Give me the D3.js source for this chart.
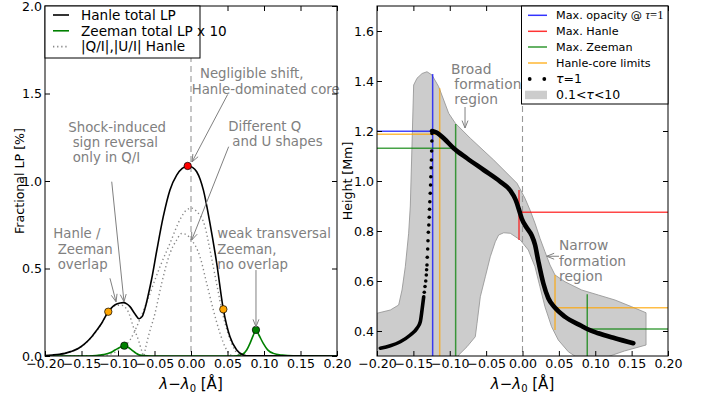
<!DOCTYPE html>
<html><head><meta charset="utf-8">
<script src="https://cdn.jsdelivr.net/npm/d3@7"></script>
<style>body{margin:0;background:#fff}svg{display:block}text{font-family:"DejaVu Sans",sans-serif}</style>
</head><body><svg id="c" width="711" height="396"></svg>
<script>
// ---------- DATA ----------
const xTicks = [-0.20,-0.15,-0.10,-0.05,0.00,0.05,0.10,0.15,0.20];
const leftYTicks = [0.0,0.5,1.0,1.5,2.0];
const rightYTicks = [0.4,0.6,0.8,1.0,1.2,1.4,1.6];

const hanleTotal = [[-0.20,0.003],[-0.19,0.006],[-0.18,0.01],[-0.1726,0.015],[-0.165,0.025],[-0.154,0.044],[-0.145,0.072],[-0.136,0.11],[-0.129,0.148],[-0.1224,0.187],[-0.1133,0.253],[-0.1065,0.285],[-0.1018,0.297],[-0.097,0.303],[-0.0927,0.305],[-0.088,0.298],[-0.0836,0.282],[-0.0767,0.24],[-0.0712,0.213],[-0.067,0.225],[-0.063,0.272],[-0.0585,0.35],[-0.0539,0.44],[-0.047,0.6],[-0.038,0.796],[-0.0288,0.949],[-0.0196,1.034],[-0.012,1.072],[-0.0045,1.086],[0.002,1.078],[0.0078,1.053],[0.0125,1.01],[0.0169,0.949],[0.026,0.758],[0.0352,0.53],[0.0443,0.267],[0.0534,0.11],[0.0626,0.034],[0.0717,0.006],[0.08,0.001],[0.20,0]];
const zeemanTotalX10 = [[-0.20,0],[-0.14,0],[-0.13,0.002],[-0.12,0.008],[-0.11,0.02],[-0.104,0.034],[-0.097,0.05],[-0.0913,0.059],[-0.086,0.05],[-0.081,0.034],[-0.075,0.015],[-0.07,0.005],[-0.06,0.001],[-0.05,0],[0.06,0],[0.07,0.008],[0.0763,0.034],[0.0808,0.072],[0.085,0.115],[0.089,0.149],[0.093,0.12],[0.099,0.072],[0.105,0.035],[0.1127,0.015],[0.125,0.005],[0.14,0.001],[0.20,0]];
const qOverI = [[-0.20,0.002],[-0.18,0.009],[-0.165,0.024],[-0.154,0.043],[-0.136,0.108],[-0.1224,0.185],[-0.1133,0.25],[-0.102,0.29],[-0.095,0.29],[-0.09,0.278],[-0.086,0.253],[-0.079,0.167],[-0.072,0.091],[-0.0675,0.03],[-0.065,0.0],[-0.062,0.05],[-0.0585,0.11],[-0.0493,0.244],[-0.0402,0.415],[-0.0288,0.587],[-0.02,0.66],[-0.0128,0.70],[-0.005,0.69],[0.0,0.665],[0.006,0.63],[0.0123,0.567],[0.0215,0.415],[0.0306,0.263],[0.0397,0.13],[0.0489,0.034],[0.055,0.005],[0.065,0],[0.20,0]];
const uOverI = [[-0.20,0],[-0.12,0.003],[-0.105,0.02],[-0.095,0.045],[-0.0836,0.091],[-0.073,0.18],[-0.063,0.282],[-0.0425,0.51],[-0.0288,0.644],[-0.015,0.78],[-0.006,0.835],[0.001,0.845],[0.008,0.825],[0.0192,0.739],[0.026,0.606],[0.035,0.415],[0.0443,0.225],[0.0557,0.072],[0.0648,0.01],[0.075,0],[0.20,0]];
const coreLimitDots = [[-0.1133,0.253],[0.0443,0.267]];
const hanleMaxDot = [[-0.0045,1.086]];
const zeemanMaxDots = [[-0.0913,0.059],[0.089,0.149]];

// right panel
const bandUpper = [[-0.2,0.471],[-0.1817,0.484],[-0.1702,0.504],[-0.1656,0.564],[-0.1611,0.657],[-0.1565,0.791],[-0.1542,0.90],[-0.1496,1.384],[-0.145,1.411],[-0.1380,1.430],[-0.1313,1.437],[-0.1244,1.424],[-0.1152,1.377],[-0.1083,1.324],[-0.1015,1.271],[-0.0923,1.231],[-0.0717,1.171],[-0.0396,1.084],[-0.0076,0.991],[0.0034,0.931],[0.0103,0.884],[0.0172,0.831],[0.024,0.771],[0.0309,0.717],[0.0378,0.664],[0.0447,0.624],[0.0584,0.597],[0.0814,0.564],[0.1042,0.544],[0.1271,0.524],[0.1501,0.497],[0.1698,0.473]];
const bandLower = [[-0.2,0.2],[-0.095,0.2],[-0.0877,0.304],[-0.0763,0.337],[-0.0649,0.377],[-0.0625,0.431],[-0.058,0.537],[-0.0511,0.617],[-0.0443,0.697],[-0.0374,0.757],[-0.0328,0.784],[-0.0258,0.793],[-0.0168,0.791],[-0.003,0.764],[0.008,0.724],[0.0172,0.657],[0.024,0.577],[0.0309,0.497],[0.04,0.417],[0.0492,0.364],[0.063,0.317],[0.0745,0.295],[0.1,0.28],[0.14,0.32],[0.1698,0.344]];
const tauLow = [[-0.1955,0.331],[-0.1817,0.341],[-0.168,0.357],[-0.1542,0.384],[-0.145,0.411],[-0.1405,0.437],[-0.1381,0.484],[-0.1358,0.537]];
const tauSparse = [[-0.1350,0.555],[-0.1340,0.578],[-0.1330,0.600],[-0.1322,0.624],[-0.1318,0.645],[-0.1313,0.664],[-0.1309,0.695],[-0.1303,0.728],[-0.1299,0.761],[-0.1294,0.795],[-0.1288,0.824],[-0.1282,0.855],[-0.1278,0.887],[-0.1274,0.917],[-0.1268,0.951],[-0.1264,0.984],[-0.126,1.017],[-0.1256,1.053],[-0.1252,1.084],[-0.1249,1.12],[-0.1246,1.16],[-0.1244,1.19]];
const tauHigh = [[-0.1244,1.20],[-0.1175,1.193],[-0.1083,1.171],[-0.0946,1.131],[-0.0763,1.091],[-0.0533,1.044],[-0.0305,0.997],[-0.0168,0.962],[-0.0095,0.925],[-0.0048,0.885],[-0.0011,0.85],[0.0058,0.813],[0.0127,0.782],[0.0172,0.745],[0.0217,0.68],[0.0286,0.591],[0.0355,0.531],[0.0447,0.493],[0.0584,0.457],[0.0814,0.42],[0.089,0.408],[0.1042,0.391],[0.1271,0.371],[0.1523,0.351]];
// marker lines: [x1,y1,x2,y2,colour]
const markerLines = [
 [-0.1235,0.3,-0.1235,1.428,"blue"],[-0.2,1.199,-0.1235,1.199,"blue"],
 [-0.1138,0.3,-0.1138,1.371,"orange"],[-0.2,1.187,-0.1138,1.187,"orange"],
 [0.0447,0.404,0.0447,0.624,"orange"],[0.0447,0.493,0.2,0.493,"orange"],
 [-0.0919,0.3,-0.0919,1.228,"green"],[-0.2,1.131,-0.0919,1.131,"green"],
 [0.089,0.3,0.089,0.547,"green"],[0.089,0.408,0.2,0.408,"green"],
 [-0.0048,0.764,-0.0048,0.964,"red"],[-0.0048,0.875,0.2,0.875,"red"]
];
// annotations (data coordinates)
const leftNotes = [
 ["Negligible shift,",0.0123,1.589],["Hanle-dominated core",0.001,1.497],
 ["Shock-induced",-0.1681,1.28],["sign reversal",-0.1621,1.194],["only in Q/I",-0.1621,1.109],
 ["Different Q",0.0511,1.286],["and U shapes",0.0566,1.2],
 ["Hanle /",-0.1886,0.674],["Zeeman",-0.1826,0.583],["overlap",-0.1826,0.497],
 ["weak transversal",0.036,0.674],["Zeeman,",0.036,0.583],["no overlap",0.036,0.497]
];
const leftArrows = [
 [0.0503,1.495,0.0014,1.109],[-0.1086,0.996,-0.0918,0.310],[0.0516,1.196,0.001,0.663],
 [-0.111,0.444,-0.1027,0.310],[0.089,0.491,0.089,0.167]
];
const rightNotes = [
 ["Broad",-0.0983,1.428],["formation",-0.0937,1.368],["region",-0.0937,1.308],
 ["Narrow",0.0502,0.724],["formation",0.0502,0.662],["region",0.0502,0.6]
];
const rightArrows = [[-0.079,1.296,-0.079,1.212],[0.0502,0.699,0.0333,0.699]];

// ---------- DRAW ----------
const svg = d3.select("#c");
const GRAY = "#808080";
const fmt2 = d3.format(".2f"), fmt1 = d3.format(".1f");

function makeAxes(id, x0, x1, y0, y1, yDomain, yTickVals) {
  const x = d3.scaleLinear().domain([-0.2,0.2]).range([x0,x1]);
  const y = d3.scaleLinear().domain(yDomain).range([y1,y0]);
  svg.append("clipPath").attr("id",id).append("rect").attr("x",x0).attr("y",y0).attr("width",x1-x0).attr("height",y1-y0);
  const g = svg.append("g");
  const plot = g.append("g").attr("clip-path",`url(#${id})`);
  return {x,y,g,plot,x0,x1,y0,y1,yTickVals};
}
function finishAxes(A, yFmt) {
  const {x,y,g,x0,x1,y0,y1} = A;
  const ax = g.append("g");
  ax.append("g").attr("transform",`translate(0,${y1})`).call(d3.axisBottom(x).tickValues(xTicks).tickFormat(fmt2).tickSizeInner(-5).tickSizeOuter(0).tickPadding(3));
  ax.append("g").attr("transform",`translate(0,${y0})`).call(d3.axisTop(x).tickValues(xTicks).tickFormat("").tickSizeInner(-5).tickSizeOuter(0));
  ax.append("g").attr("transform",`translate(${x0},0)`).call(d3.axisLeft(y).tickValues(A.yTickVals).tickFormat(yFmt).tickSizeInner(-5).tickSizeOuter(0).tickPadding(3));
  ax.append("g").attr("transform",`translate(${x1},0)`).call(d3.axisRight(y).tickValues(A.yTickVals).tickFormat("").tickSizeInner(-5).tickSizeOuter(0));
  ax.selectAll(".domain").remove();
  ax.selectAll("text").attr("font-size",12.6).attr("font-family","DejaVu Sans").attr("fill","#000");
  ax.selectAll("line").attr("stroke","#000");
  g.append("rect").attr("x",x0).attr("y",y0).attr("width",x1-x0).attr("height",y1-y0).attr("fill","none").attr("stroke","#000").attr("stroke-width",1);
  const xl = g.append("text").attr("x",(x0+x1)/2).attr("y",389).attr("text-anchor","middle").attr("font-family","Liberation Serif, serif").attr("font-size",15);
  xl.append("tspan").attr("font-style","italic").text("λ");
  xl.append("tspan").text("−");
  xl.append("tspan").attr("font-style","italic").text("λ");
  xl.append("tspan").attr("font-size",10).attr("dy",3).text("0");
  xl.append("tspan").attr("dy",-3).text(" [Å]");
}
function arrow(g, A, a) {
  const X1=A.x(a[0]),Y1=A.y(a[1]),X2=A.x(a[2]),Y2=A.y(a[3]);
  const ang = Math.atan2(Y2-Y1,X2-X1), L=8, h=0.38;
  g.append("path").attr("d",`M${X1},${Y1}L${X2},${Y2}M${X2-L*Math.cos(ang-h)},${Y2-L*Math.sin(ang-h)}L${X2},${Y2}L${X2-L*Math.cos(ang+h)},${Y2-L*Math.sin(ang+h)}`)
    .attr("fill","none").attr("stroke",GRAY).attr("stroke-width",1);
}
function notes(g, A, list, fs) {
  list.forEach(n => g.append("text").attr("x",A.x(n[1])).attr("y",A.y(n[2])).attr("font-size",fs).attr("fill",GRAY).text(n[0]));
}

// ===== LEFT =====
const L = makeAxes("clipL",45,337,6,356,[0,2],leftYTicks);
const lineL = d3.line().x(d=>L.x(d[0])).y(d=>L.y(d[1])).curve(d3.curveMonotoneX);
L.plot.append("line").attr("x1",L.x(0)).attr("x2",L.x(0)).attr("y1",6).attr("y2",356).attr("stroke","#999").attr("stroke-width",1.1).attr("stroke-dasharray","6,4");
[qOverI,uOverI].forEach(s => L.plot.append("path").attr("d",lineL(s)).attr("fill","none").attr("stroke","#888").attr("stroke-width",1.4).attr("stroke-dasharray","1.3,2.8"));
L.plot.append("path").attr("d",lineL(zeemanTotalX10)).attr("fill","none").attr("stroke","#008000").attr("stroke-width",1.6);
L.plot.append("path").attr("d",lineL(hanleTotal)).attr("fill","none").attr("stroke","#000").attr("stroke-width",1.6);
const dot=(arr,col)=>arr.forEach(d=>L.g.append("circle").attr("cx",L.x(d[0])).attr("cy",L.y(d[1])).attr("r",3.7).attr("fill",col).attr("stroke","#000").attr("stroke-width",0.7));
dot(coreLimitDots,"orange"); dot(hanleMaxDot,"red"); dot(zeemanMaxDots,"#008000");
notes(L.g,L,leftNotes,13.3);
leftArrows.forEach(a=>arrow(L.g,L,a));
finishAxes(L,fmt1);
svg.append("text").attr("transform","translate(24,181) rotate(-90)").attr("text-anchor","middle").attr("font-size",12.6).text("Fractional LP [%]");
// left legend
const lg = svg.append("g");
lg.append("rect").attr("x",45).attr("y",6).attr("width",155).attr("height",52).attr("fill","#fff").attr("stroke","#000").attr("stroke-width",1);
const legL=[["Hanle total LP","#000",null],["Zeeman total LP x 10","#008000",null],["|Q/I|,|U/I| Hanle","#888","1.3,2.8"]];
legL.forEach((e,i)=>{const cy=15+i*15.8;
  lg.append("line").attr("x1",53).attr("x2",69).attr("y1",cy).attr("y2",cy).attr("stroke",e[1]).attr("stroke-width",1.6).attr("stroke-dasharray",e[2]);
  lg.append("text").attr("x",81).attr("y",cy+4.8).attr("font-size",13.6).text(e[0]);});

// ===== RIGHT =====
const R = makeAxes("clipR",377,668,6,356,[0.3,1.7],rightYTicks);
const lineRs = d3.line().x(d=>R.x(d[0])).y(d=>R.y(d[1])).curve(d3.curveMonotoneX);
const bandPts = bandUpper.concat(bandLower.slice().reverse());
R.plot.append("path").attr("d",d3.line().x(d=>R.x(d[0])).y(d=>R.y(d[1])).curve(d3.curveLinearClosed)(bandPts)).attr("fill","#cccccc").attr("stroke","#999").attr("stroke-width",0.9);
R.plot.append("line").attr("x1",R.x(0)).attr("x2",R.x(0)).attr("y1",6).attr("y2",356).attr("stroke","#999").attr("stroke-width",1.1).attr("stroke-dasharray","6,4");
markerLines.forEach(m=>R.plot.append("line").attr("x1",R.x(m[0])).attr("y1",R.y(m[1])).attr("x2",R.x(m[2])).attr("y2",R.y(m[3])).attr("stroke",m[4]).attr("stroke-opacity",0.72).attr("stroke-width",1.5));
R.plot.append("path").attr("d",lineRs(tauLow)).attr("fill","none").attr("stroke","#000").attr("stroke-width",3.6).attr("stroke-linecap","round");
tauSparse.forEach(d=>R.plot.append("circle").attr("cx",R.x(d[0])).attr("cy",R.y(d[1])).attr("r",1.8).attr("fill","#000"));
R.plot.append("path").attr("d",lineRs(tauHigh)).attr("fill","none").attr("stroke","#000").attr("stroke-width",4.6).attr("stroke-linecap","round");
notes(R.g,R,rightNotes,13.8);
rightArrows.forEach(a=>arrow(R.g,R,a));
finishAxes(R,fmt1);
svg.append("text").attr("transform","translate(352,181) rotate(-90)").attr("text-anchor","middle").attr("font-size",12.6).text("Height [Mm]");
// right legend
const rg = svg.append("g");
rg.append("rect").attr("x",521.5).attr("y",6).attr("width",146.5).attr("height",98).attr("fill","#fff").attr("stroke","#000").attr("stroke-width",1);
const rowY=[15.3,31.3,47,63,79,95];
const legR=[["blue","Max. opacity @ ",true],["red","Max. Hanle",false],["green","Max. Zeeman",false],["orange","Hanle-core limits",false]];
legR.forEach((e,i)=>{const cy=rowY[i];
  rg.append("line").attr("x1",528).attr("x2",547).attr("y1",cy).attr("y2",cy).attr("stroke",e[0]).attr("stroke-opacity",0.8).attr("stroke-width",1.5);
  const t=rg.append("text").attr("x",556).attr("y",cy+4).attr("font-size",11.2).text(e[1]);
  if(e[2]){t.append("tspan").attr("font-family","Liberation Serif, serif").attr("font-style","italic").attr("font-size",12.5).text("τ");
           t.append("tspan").attr("font-family","Liberation Serif, serif").attr("font-size",12.5).text("=1");}
});
[529.7,544.3].forEach(cx=>rg.append("circle").attr("cx",cx).attr("cy",rowY[4]).attr("r",1.9).attr("fill","#000"));
const t5=rg.append("text").attr("x",556).attr("y",rowY[4]+4.2).attr("font-family","Liberation Serif, serif").attr("font-size",12.5);
t5.append("tspan").attr("font-style","italic").text("τ"); t5.append("tspan").text("=1");
rg.append("rect").attr("x",525).attr("y",rowY[5]-4.3).attr("width",22).attr("height",8.5).attr("fill","#cccccc");
const t6=rg.append("text").attr("x",556).attr("y",rowY[5]+4.2).attr("font-family","Liberation Serif, serif").attr("font-size",12.5);
t6.append("tspan").text("0.1<"); t6.append("tspan").attr("font-style","italic").text("τ"); t6.append("tspan").text("<10");
</script></body></html>
